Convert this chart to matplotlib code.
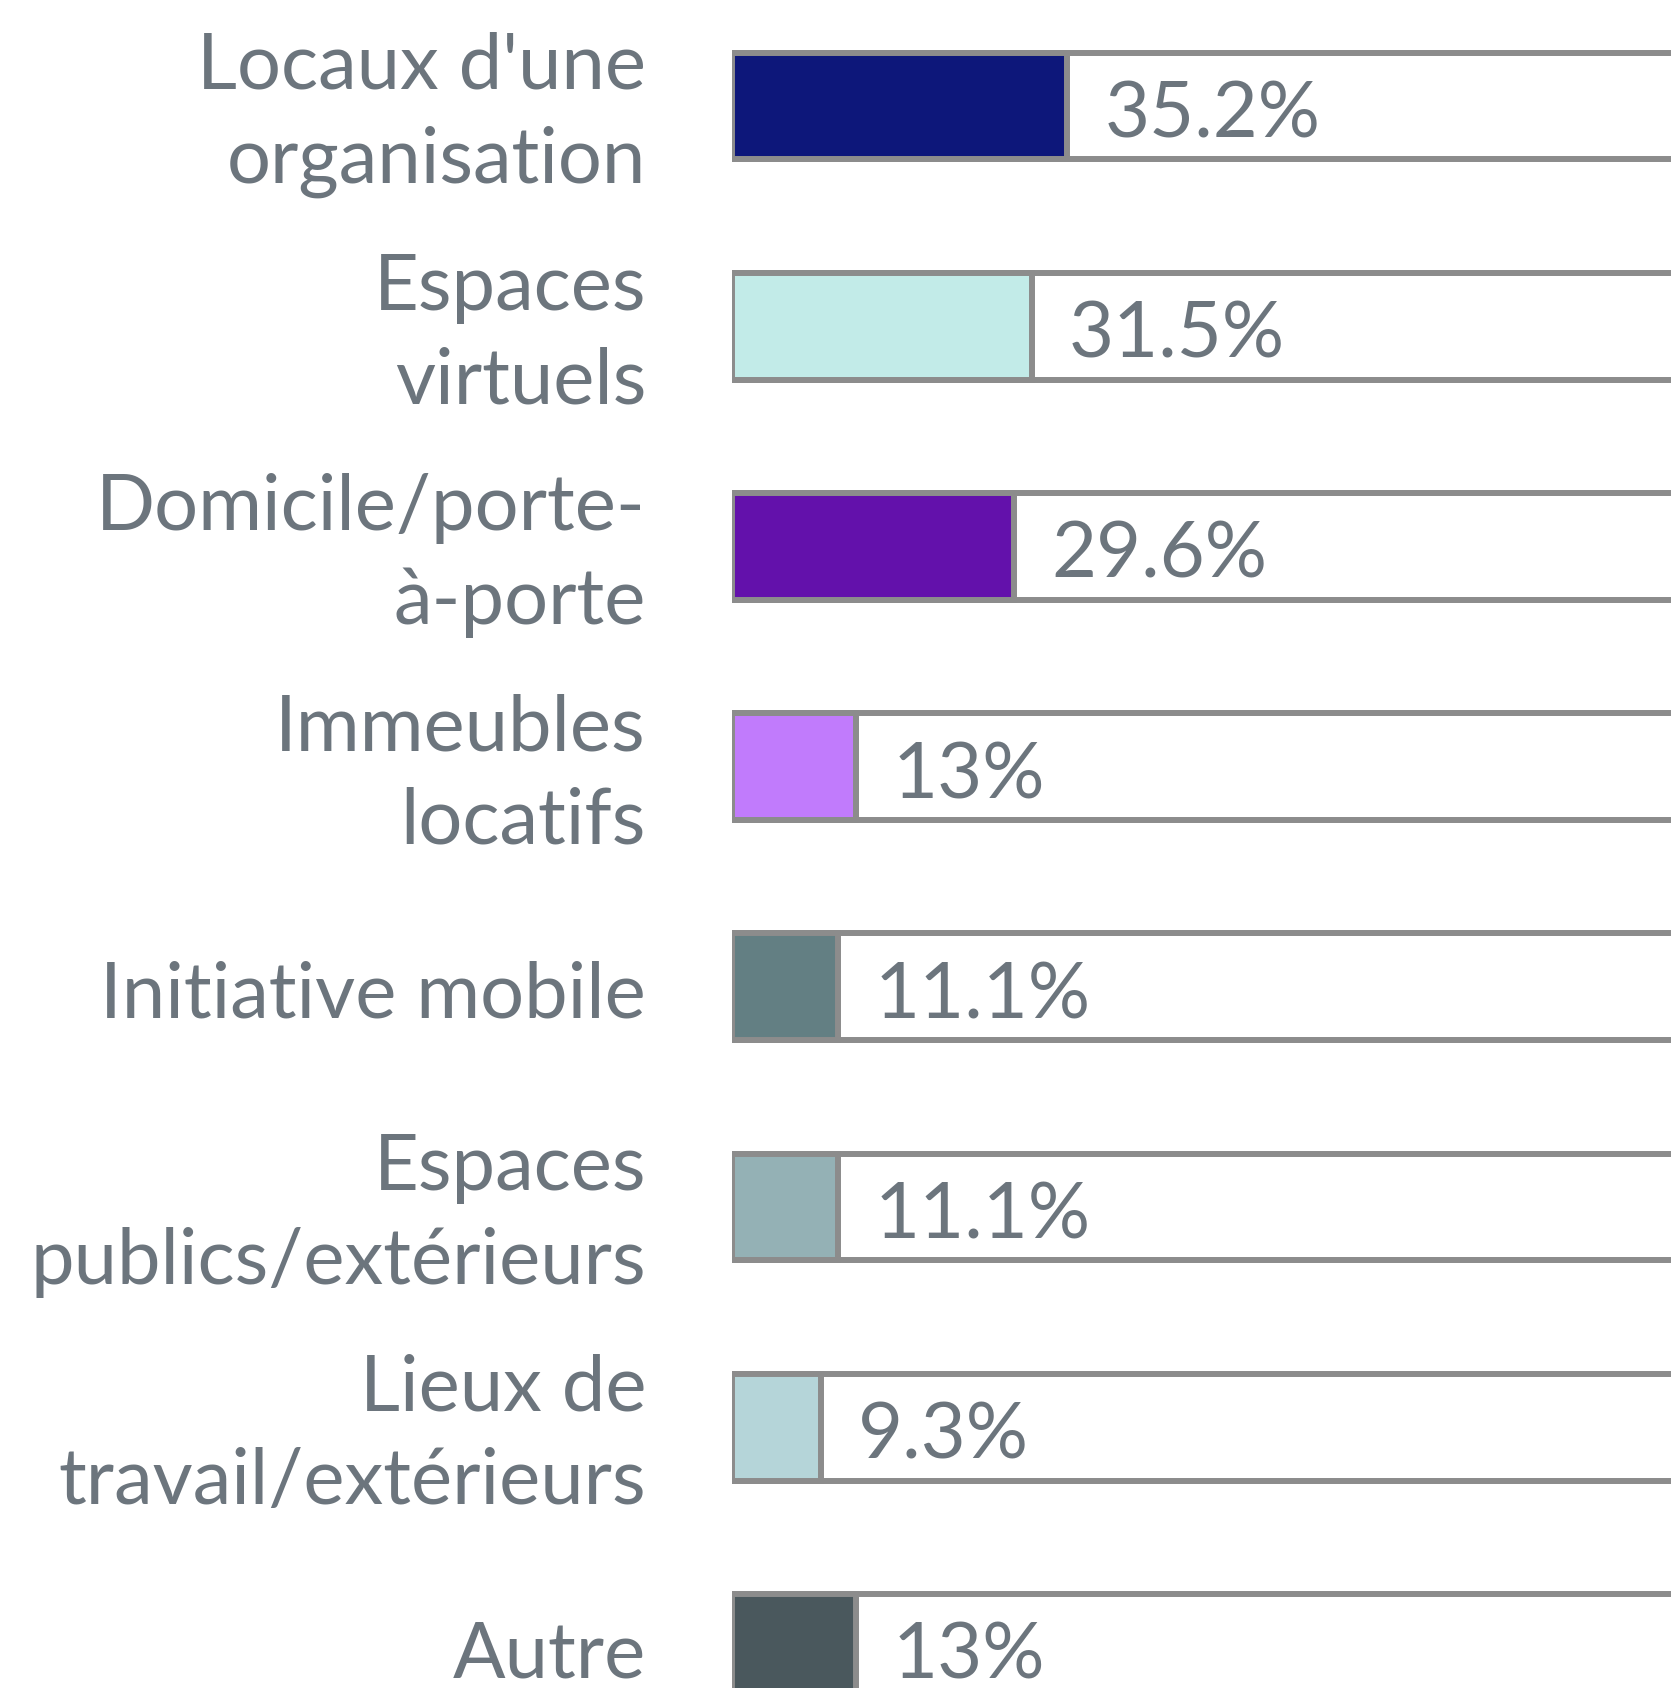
import matplotlib
matplotlib.use("Agg")
import matplotlib.pyplot as plt

# data
categories = ["Locaux d'une\norganisation", "Espaces\nvirtuels", "Domicile/porte-\nà-porte",
              "Immeubles\nlocatifs", "Initiative mobile", "Espaces\npublics/extérieurs",
              "Lieux de\ntravail/extérieurs", "Autre"]
values = [35.2, 31.5, 29.6, 13, 11.1, 11.1, 9.3, 13]
colors = ["#0d177a", "#c2ebe8", "#6311ab", "#c17bfc", "#637f83", "#94b1b5", "#b5d5d9", "#4a585d"]

text_col = "#6c757d"
edge_col = "#8c8c8c"
plt.rcParams['font.family'] = ['Lato', 'DejaVu Sans']

W, H = 1671, 1688
fig = plt.figure(figsize=(W/100, H/100), dpi=100)
x0 = 732
ax = fig.add_axes([x0/W, 0, 1 - x0/W, 1])
px_per_unit = 9.52
ax.set_xlim(0, (W - x0)/px_per_unit)
first_c, step = 106, 220.2
ax.set_ylim((H - first_c)/step, -first_c/step)
ax.axis('off')

ypos = list(range(len(values)))
ax.barh(ypos, [100]*len(values), height=0.485, color='white', edgecolor=edge_col, linewidth=4.3)
ax.barh(ypos, values, height=0.485, color=colors, edgecolor=edge_col, linewidth=4.3)

for y, v, lab in zip(ypos, values, categories):
    ax.text(v + 3.9, y + 0.045, f"{v:g}%", ha='left', va='center', fontsize=56, color=text_col)
    ax.text(-(x0 - 646)/px_per_unit, y + 0.04, lab, ha='right', va='center', fontsize=56,
            color=text_col, multialignment='right', linespacing=1.4, clip_on=False)

fig.savefig("out.png", dpi=100)
